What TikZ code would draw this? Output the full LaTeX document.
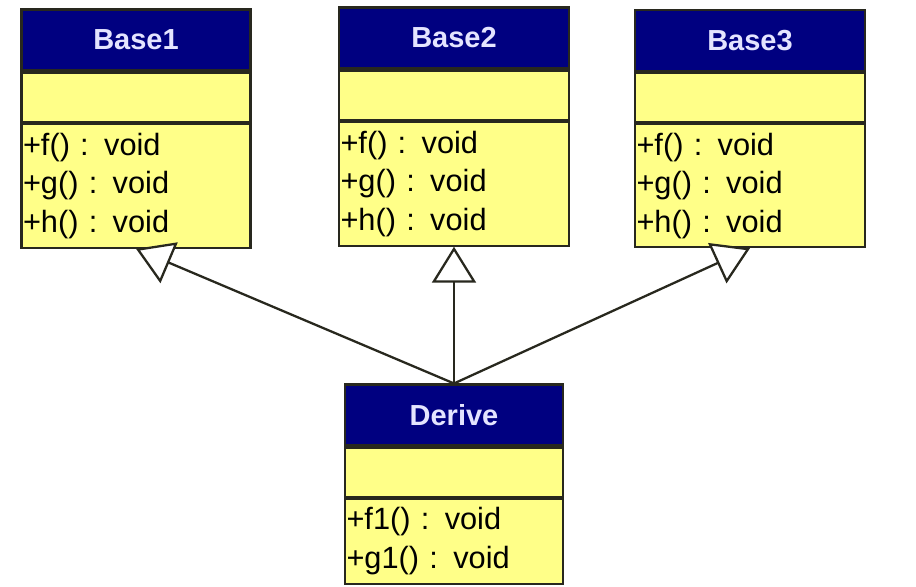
\documentclass[tikz,border=0pt]{standalone}
\usepackage{fontspec}
\setmainfont{Liberation Sans}
\usetikzlibrary{positioning,arrows.meta}
\definecolor{classhead}{RGB}{0,0,128}
\definecolor{classbody}{RGB}{255,255,136}
\definecolor{classtitle}{RGB}{228,228,255}
\definecolor{classline}{RGB}{40,40,30}

\begin{document}
\begin{tikzpicture}[x=0.02cm,y=-0.02cm,
    head/.style={draw=classline, line width=1.2pt, fill=classhead, text=classtitle,
      font=\fontsize{16.5}{20}\selectfont\bfseries, minimum width=#1, minimum height=1.22cm, inner sep=0pt},
    attrs/.style={draw=classline, line width=1.2pt, fill=classbody, minimum width=#1,
      minimum height=0.98cm, inner sep=0pt},
    ops/.style={draw=classline, line width=1.2pt, fill=classbody, text width=#1, align=left,
      inner xsep=0.03cm, inner ysep=0pt, font=\fontsize{17.5}{22}\selectfont},
    inherit/.style={draw=classline, line width=1.3pt,
      -{Triangle[open,fill=white,length=0.72cm,width=0.88cm]}}
  ]
    \useasboundingbox[fill=white] (0,0) rectangle (916,586);

    % base classes
    \node[head=4.58cm] (base1) at (136,40) {Base1};
    \node[attrs=4.58cm, below=0pt of base1] (base1attr) {};
    \node[ops=4.52cm, minimum height=2.48cm, below=0pt of base1attr] (base1ops) {+f() : void\\+g() : void\\+h() : void};

    \node[head=4.6cm] (base2) at (454,38) {Base2};
    \node[attrs=4.6cm, below=0pt of base2] (base2attr) {};
    \node[ops=4.54cm, minimum height=2.48cm, below=0pt of base2attr] (base2ops) {+f() : void\\+g() : void\\+h() : void};

    \node[head=4.6cm] (base3) at (750,40.5) {Base3};
    \node[attrs=4.6cm, below=0pt of base3] (base3attr) {};
    \node[ops=4.54cm, minimum height=2.46cm, below=0pt of base3attr] (base3ops) {+f() : void\\+g() : void\\+h() : void};

    % derived class
    \node[head=4.36cm] (derive) at (454,415) {Derive};
    \node[attrs=4.36cm, below=0pt of derive] (deriveattr) {};
    \node[ops=4.3cm, minimum height=1.7cm, below=0pt of deriveattr] (deriveops) {+f1() : void\\+g1() : void};

    \draw[inherit] (derive.north) -- (base1ops.south);
    \draw[inherit] (derive.north) -- (base2ops.south);
    \draw[inherit] (derive.north) -- (base3ops.south);
  \end{tikzpicture}
\end{document}
